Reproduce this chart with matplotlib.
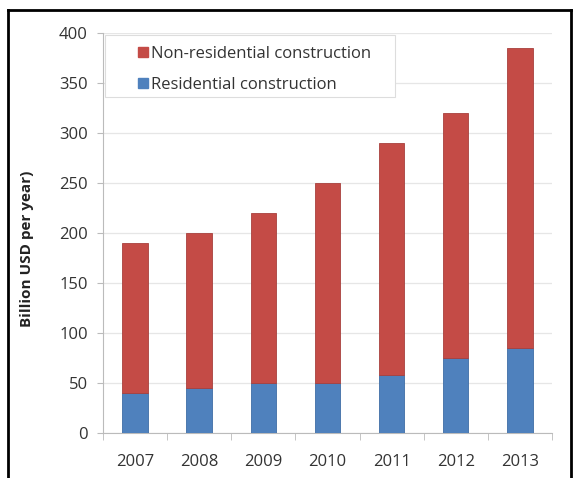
import matplotlib
matplotlib.use("Agg")
import matplotlib.pyplot as plt
from matplotlib.lines import Line2D
from matplotlib.patches import Rectangle
import numpy as np

# ----- datos -----
years = ["2007", "2008", "2009", "2010", "2011", "2012", "2013"]
residential = [40, 45, 50, 50, 58, 75, 85]
non_residential = [150, 155, 170, 200, 232, 245, 300]

RED = "#C44B46"
BLUE = "#4F81BD"

plt.rcParams['font.family'] = ['Open Sans', 'DejaVu Sans']

fig = plt.figure(figsize=(5.73, 4.78), dpi=100)
ax = fig.add_axes([0.180, 0.094, 0.783, 0.837])

x = np.arange(len(years))
ax.bar(x, residential, width=0.4, color=BLUE, edgecolor="#3E6DA6", linewidth=0.6,
       label="Residential construction", zorder=3)
ax.bar(x, non_residential, width=0.4, bottom=residential, color=RED,
       edgecolor="#A8403D", linewidth=0.6, label="Non-residential construction", zorder=3)

ax.set_xlim(-0.5, len(years) - 0.5)
ax.set_ylim(0, 400)
ax.set_yticks(range(0, 401, 50))
ax.set_xticks(x)
ax.set_xticklabels(years)
ax.set_xticks(np.arange(-0.5, len(years)), minor=True)
ax.tick_params(axis="x", which="major", length=0, pad=15, labelsize=12, labelcolor="#333333")
ax.tick_params(axis="x", which="minor", length=5, color="#BBBBBB", direction="out")
ax.tick_params(axis="y", length=4, color="#BBBBBB", pad=7, labelsize=12, labelcolor="#333333")

ax.grid(axis="y", color="#E6E6E6", linewidth=0.9, zorder=0)
for s in ["top", "right"]:
    ax.spines[s].set_visible(False)
for s in ["left", "bottom"]:
    ax.spines[s].set_color("#BBBBBB")

ax.set_ylabel("Billion USD per year)", fontsize=11, fontweight="bold", color="#222222")
ax.yaxis.set_label_coords(-0.155, 0.46)

# leyenda: caja aparte y entradas sin marco
ax.add_patch(Rectangle((0.004, 0.84), 0.647, 0.155, transform=ax.transAxes,
                       facecolor="white", edgecolor="#DDDDDD", linewidth=0.8, zorder=4))
handles = [
    Line2D([], [], marker="s", linestyle="", color=RED, markersize=7),
    Line2D([], [], marker="s", linestyle="", color=BLUE, markersize=7),
]
leg = ax.legend(handles, ["Non-residential construction", "Residential construction"],
                loc="upper left", bbox_to_anchor=(0.076, 0.9675), fontsize=12,
                frameon=False, handlelength=0.7, handletextpad=0.15,
                labelspacing=0.9, borderpad=0.0, borderaxespad=0.0, labelcolor="#333333")
leg.set_zorder(5)

# marco negro exterior
fig.add_artist(Line2D([8 / 573, 8 / 573], [0, 1 - 10 / 478], transform=fig.transFigure,
                      color="black", linewidth=2))
fig.add_artist(Line2D([8 / 573, 571 / 573], [1 - 10 / 478, 1 - 10 / 478],
                      transform=fig.transFigure, color="black", linewidth=2))
fig.add_artist(Line2D([571 / 573, 571 / 573], [0, 1 - 10 / 478], transform=fig.transFigure,
                      color="black", linewidth=2))

fig.savefig("out.png", dpi=100)
